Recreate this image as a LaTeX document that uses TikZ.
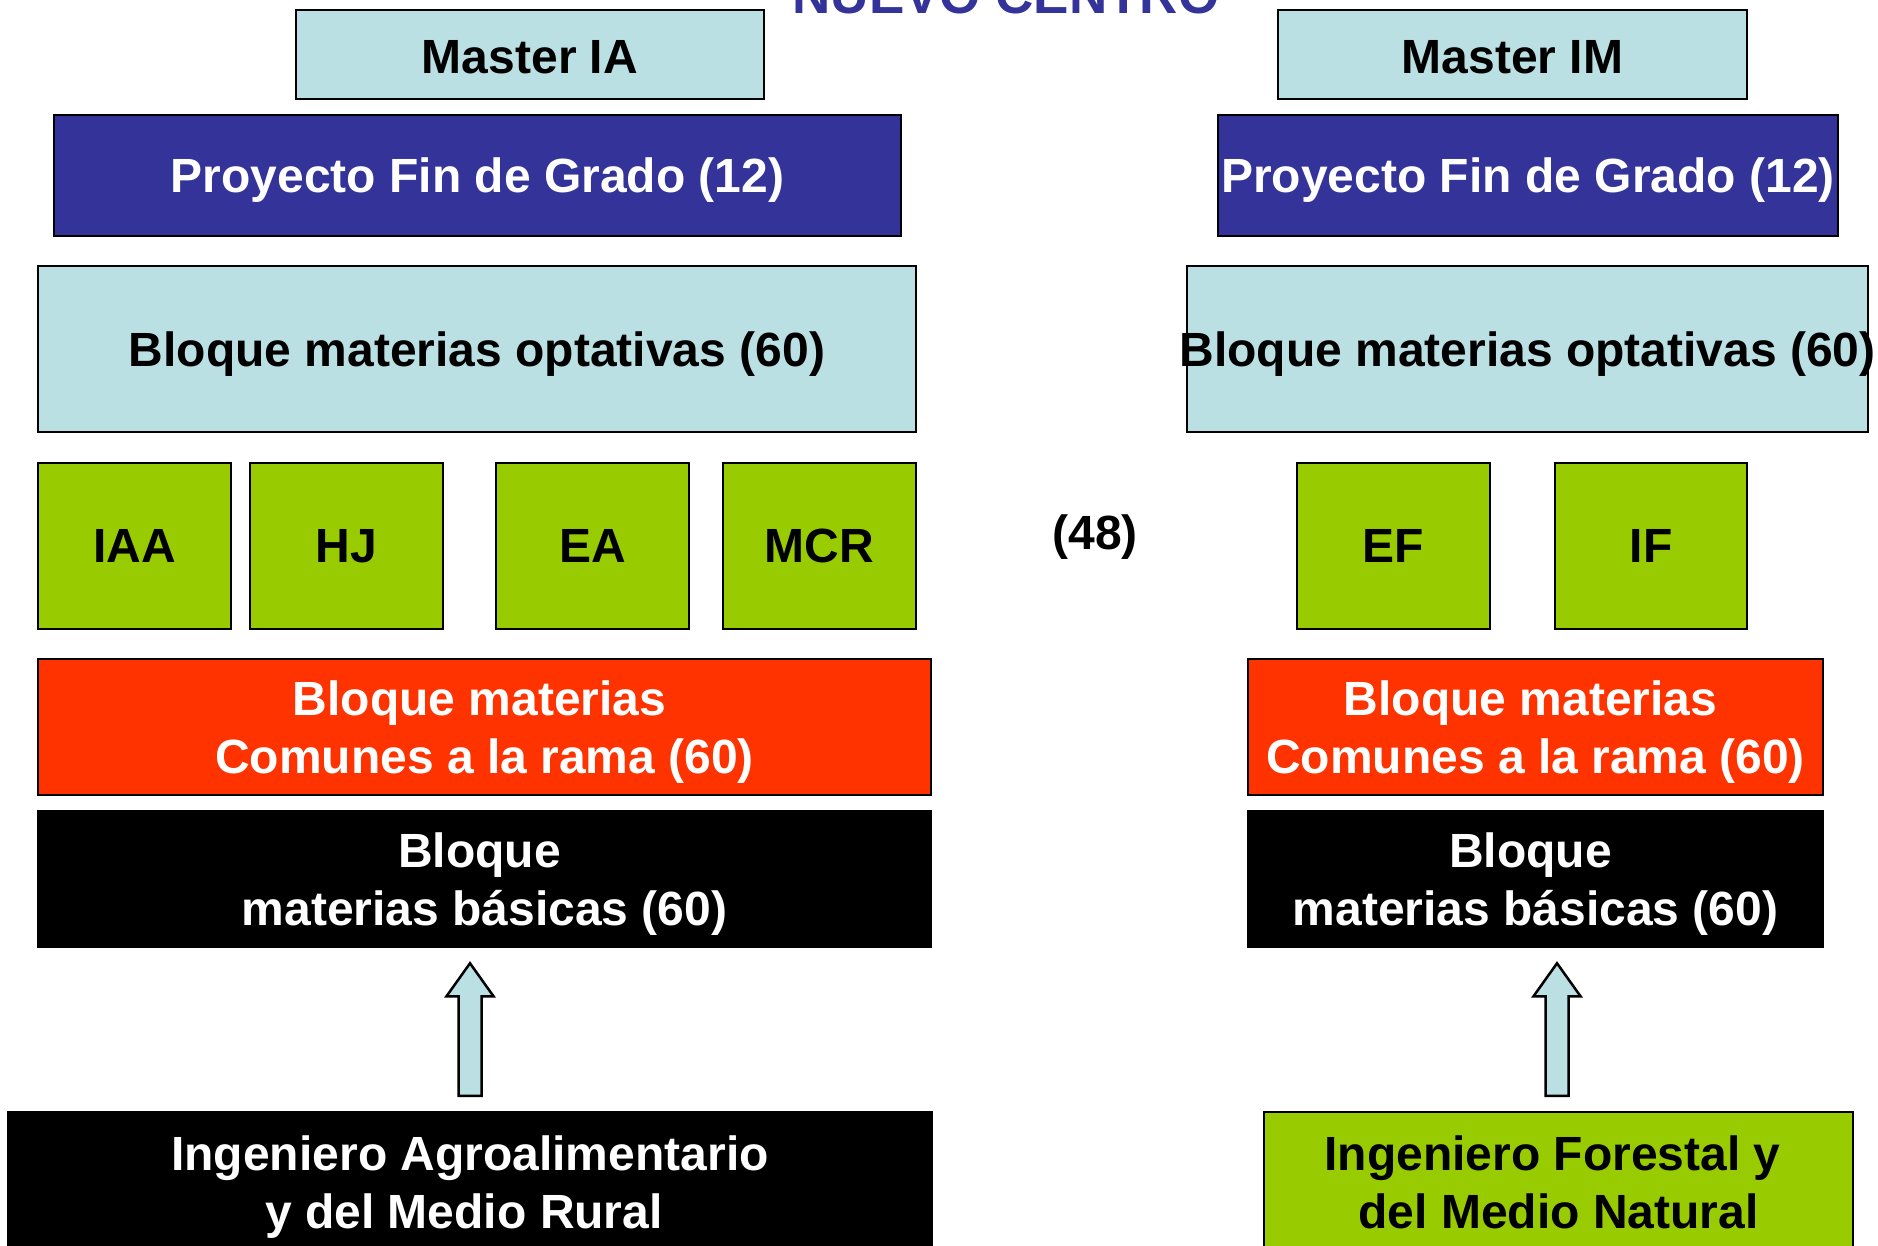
\documentclass[tikz,border=0pt]{standalone}
\usepackage{fontspec}
\setmainfont{Liberation Sans}
\usetikzlibrary{calc}
\definecolor{lblue}{HTML}{BBE0E3}
\definecolor{dblue}{HTML}{333399}
\definecolor{lgreen}{HTML}{99CC00}
\definecolor{rred}{HTML}{FF3300}
\newcommand\blockarrowup[2]{%
  \draw[barrow] ($(#1)+(-11.5,0)$) -- ($(#2)+(-11.5,33)$) -- ($(#2)+(-23.5,33)$) -- (#2)
    -- ($(#2)+(23.5,33)$) -- ($(#2)+(11.5,33)$) -- ($(#1)+(11.5,0)$) -- cycle;}
\begin{document}
\begin{tikzpicture}[x=1pt,y=-1pt,
  box/.style={draw=black,line width=2.5pt,inner sep=0pt,align=center,text depth=0pt,
    font=\fontsize{48}{57.5}\selectfont\bfseries},
  lbbox/.style={box,fill=lblue,text=black},
  pfbox/.style={box,fill=dblue,text=white},
  grbox/.style={box,fill=lgreen,text=black},
  rdbox/.style={box,fill=rred,text=white},
  bkbox/.style={box,fill=black,text=white},
  barrow/.style={draw=black,line width=2.5pt,fill=lblue,line join=miter},
  plain/.style={inner sep=0pt,text depth=0pt,font=\fontsize{48}{57.5}\selectfont\bfseries}]
\useasboundingbox (0,0) rectangle (1878,1246);
% title
\node[inner sep=0pt,anchor=base,text=dblue,font=\fontsize{53}{60}\selectfont\bfseries] (title) at (1006,14) {NUEVO CENTRO};
% left column
\node[lbbox,text height=39pt,minimum width=468,minimum height=89] (mIA) at (530,54.5) {Master IA};
\node[pfbox,minimum width=847,minimum height=121] (pfL) at (477.5,175.5) {Proyecto Fin de Grado (12)};
\node[lbbox,minimum width=878,minimum height=166] (optL) at (477,349) {Bloque materias optativas (60)};
\node[grbox,minimum width=193,minimum height=166] (iaa) at (134.5,546) {IAA};
\node[grbox,minimum width=193,minimum height=166] (hj) at (346.5,546) {HJ};
\node[grbox,minimum width=193,minimum height=166] (ea) at (592.5,546) {EA};
\node[grbox,minimum width=193,minimum height=166] (mcr) at (819.5,546) {MCR};
\node[rdbox,minimum width=893,minimum height=136] (rdL) at (484.5,727) {Bloque materias\kern10pt\\Comunes a la rama (60)};
\node[bkbox,minimum width=893,minimum height=136] (bkL) at (484.5,879) {Bloque\kern10pt\\materias básicas (60)};
\node[bkbox,minimum width=924,minimum height=140] (botL) at (470,1182) {Ingeniero Agroalimentario\\y del Medio Rural\kern12pt};
% middle
\node[plain] (n48) at (1095,532) {(48)};
% right column
\node[lbbox,text height=39pt,minimum width=469,minimum height=89] (mIM) at (1512.5,54.5) {Master IM};
\node[pfbox,minimum width=620,minimum height=121] (pfR) at (1528,175.5) {Proyecto Fin de Grado (12)};
\node[lbbox,minimum width=681,minimum height=166] (optR) at (1527.5,349) {\makebox[0pt][c]{Bloque materias optativas (60)}};
\node[grbox,minimum width=193,minimum height=166] (ef) at (1393.5,546) {EF};
\node[grbox,minimum width=192,minimum height=166] (if) at (1651,546) {IF};
\node[rdbox,minimum width=575,minimum height=136] (rdR) at (1535.5,727) {Bloque materias\kern10pt\\Comunes a la rama (60)};
\node[bkbox,minimum width=575,minimum height=136] (bkR) at (1535.5,879) {Bloque\kern10pt\\materias básicas (60)};
\node[grbox,minimum width=589,minimum height=140] (botR) at (1558.5,1182) {Ingeniero Forestal y\kern12pt\\del Medio Natural};
% arrows
\coordinate (aLb) at ($(botL.north)+(0,-15)$);
\coordinate (aLt) at ($(botL.north |- bkL.south)+(0,15)$);
\coordinate (aRb) at ($(botR.north)+(-1.5,-15)$);
\coordinate (aRt) at ($(aRb |- bkR.south)+(0,15)$);
\blockarrowup{aLb}{aLt}
\blockarrowup{aRb}{aRt}
\end{tikzpicture}
\end{document}
